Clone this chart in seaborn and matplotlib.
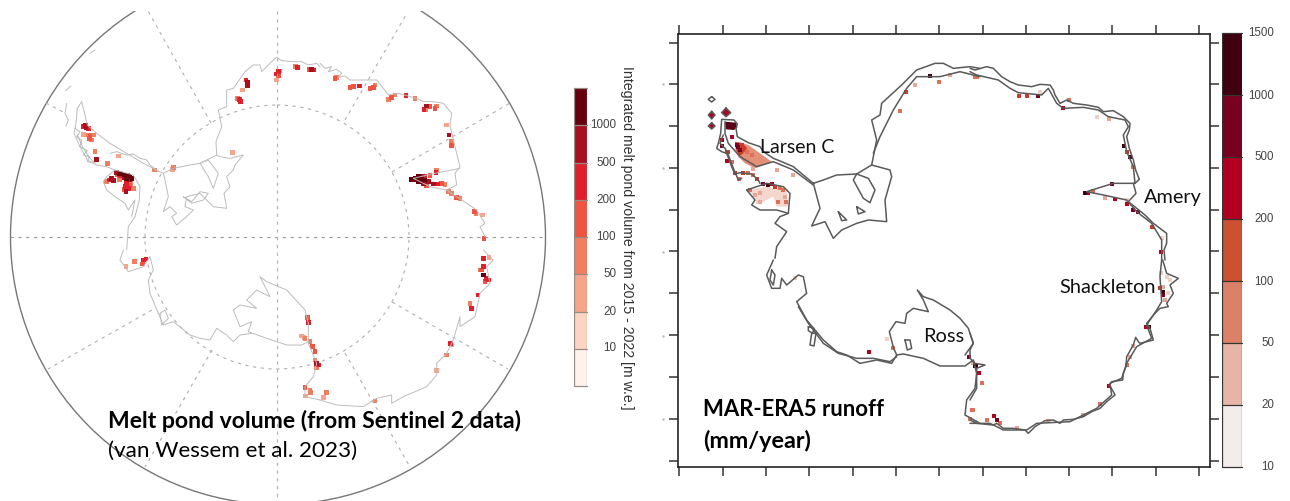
import numpy as np
import pandas as pd
import matplotlib
matplotlib.use("Agg")
import matplotlib.pyplot as plt
from matplotlib.colors import ListedColormap
from matplotlib.patches import Circle
import seaborn as sns

W, H = 1290, 501

# Colour classes
left_colors = ["#fdf3ec", "#fbd5c2", "#f6a58b", "#f07f60", "#ef5540", "#e01f2c", "#a81020", "#67000d"]
right_levels = ["10", "20", "50", "100", "200", "500", "1000", "1500"]
right_colors = ["#f2edea", "#e6b5a8", "#dc8068", "#cd5030", "#b30020", "#7a0022", "#3f0010"]
right_mark_colors = ["#f2edea", "#f0cfc6", "#e8a796", "#dc7058", "#cd3a28", "#b30020", "#7a0022", "#3f0010"]

# Traced outlines, (x, y) on 3x crops; the crop origin goes with each list
left_peninsula_w = [(245,305),(232,325),(228,370),(222,400),(240,440),(262,480),(290,495),(320,500),(345,510)]
left_peninsula_e = [(245,305),(255,345),(262,375),(290,400),(330,430),(380,460),(430,490),(470,510),(490,520)]
left_isles = [(200,310),(195,340),(205,360),(198,378)]
left_isles2 = [(225,385),(240,395),(230,410),(245,420),(240,440),(262,452),(250,465),(268,470),(262,485),(285,490),(270,475),(250,445),(232,405)]
left_isles3 = [(330,460),(350,455),(380,465),(400,462),(420,475),(440,480),(450,495),(475,515)]
left_spot_a = [(270,160),(285,150)]
left_spot_b = [(197,272),(212,258)]
left_filchner = [(490,520),(520,505),(570,495),(600,490),(640,470),(650,465),(660,470),(690,475),(730,465),(705,495),(700,510),(680,530),(690,560),(672,580),(680,625),(640,620),(620,600),(600,580),(560,590),(555,620),(580,630),(560,650),(530,675),(515,650),(530,640),(510,620),(490,635),(505,590),(495,540),(490,520)]
left_filchner_in = [(600,490),(625,530),(640,565),(655,520),(625,480),(600,490)]
left_island = [(550,590),(575,610),(610,600),(625,580),(600,575),(575,605),(550,590)]
left_dml = [(650,465),(648,425),(665,380),(655,330),(680,320),(680,270),(700,265),(735,215),(760,195),(780,195),(785,215),(805,195),(820,180),(830,172),(845,182),(880,185),(905,185),(925,195),(950,190),(960,200)]
left_george = [(345,510),(400,525),(420,560),(418,600),(405,650),(385,680),(380,750)]
left_george_w = [(345,510),(320,530),(310,545),(320,570),(345,590),(375,610),(385,630),(405,600),(395,650)]
left_east_a = [(0,190),(15,205),(35,200),(25,215),(50,208),(65,220),(55,232),(75,228),(90,240),(130,240),(170,240),(190,265),(205,285),(235,280),(290,295),(310,305),(340,305),(370,310),(395,340),(390,375),(400,420),(420,500),(405,520),(410,555),(380,570),(410,590),(440,610),(470,630),(495,670),(480,680),(495,710)]
left_amery = [(420,505),(370,515),(345,520),(280,535),(330,560),(380,570)]
left_east_b = [(490,0),(520,30),(500,50),(510,100),(480,130),(465,200),(420,230),(420,200),(400,270),(380,310),(350,340),(350,375),(320,410),(250,440),(215,460),(215,435),(170,445),(130,470),(50,465),(0,450)]
left_ross = [(960,450),(915,440),(915,410),(940,380),(950,340),(925,280),(925,220),(915,180),(860,120),(800,95),(780,80),(810,140),(770,120),(740,150),(770,175),(720,165),(700,180),(720,230),(755,215),(745,245),(800,265),(860,285),(905,285),(925,275)]
left_west = [(755,250),(720,255),(700,275),(680,255),(650,235),(630,270),(600,265),(570,255),(520,215),(490,225),(475,190),(450,130),(445,90),(460,60),(450,20),(430,50),(385,65),(360,30),(370,0)]
left_west_isle = [(480,190),(495,180),(505,205),(485,225),(480,190)]

right_filchner = [(460,490),(490,480),(530,465),(590,462),(635,435),(690,450),(695,470),(675,540),(680,605),(625,600),(590,610),(545,630),(520,655),(495,605),(455,618),(480,565),(460,490)]
right_filchner_in = [(590,462),(580,480),(610,535),(630,548),(645,510),(625,475),(590,462)]
right_isle_a = [(535,575),(560,600),(545,602),(535,575)]
right_isle_b = [(590,560),(615,575),(595,582),(590,560)]
right_coast_a = [(635,435),(650,360),(635,300),(660,285),(665,250),(725,195),(770,150),(825,130),(850,130),(880,145),(930,140),(960,145)]
right_ground_a = [(640,400),(660,350),(700,270),(740,205),(770,170),(840,170),(900,155),(960,170)]
right_peninsula = [(460,490),(430,465),(400,440),(365,425),(340,415),(310,395),(300,380),(265,368),(232,350),(228,325),(232,312),(222,300),(185,298),(182,340),(175,370),(170,385),(185,395),(200,400),(215,440),(225,462),(240,458),(275,462),(295,480),(300,490)]
right_peninsula_in = [(460,495),(400,450),(340,425),(290,440),(240,410),(205,370),(195,340),(195,305)]
right_peninsula_w = [(190,345),(180,370),(195,385),(205,405),(222,450),(235,480),(245,475)]
right_george = [(260,510),(320,490),(370,500),(390,520),(385,580),(360,590),(345,610),(380,635),(350,680),(345,715)]
right_george_w = [(260,510),(285,540),(275,555),(300,570),(350,570),(385,580)]
right_coast_b = [(0,145),(15,150),(50,140),(70,145),(95,170),(120,185),(145,195),(185,200),(210,193),(240,195),(250,210),(255,225),(270,250),(290,240),(310,250),(350,255),(385,262),(400,275),(430,272),(460,290),(480,310),(478,330),(470,350),(478,385),(490,420),(497,450),(508,478),(495,490),(490,490),(498,520),(475,545),(500,565),(525,585),(550,610),(590,640),(590,670),(582,690),(585,720)]
right_ground_b = [(0,155),(20,165),(85,180),(120,205),(145,218),(215,225),(235,205),(260,250),(280,265),(340,262),(385,270),(415,290),(465,300),(475,320),(460,345),(470,395),(490,440),(495,490),(430,490),(350,515),(400,525),(470,540),(500,575),(545,610),(575,660),(575,720)]
right_coast_c = [(578,0),(590,40),(625,55),(600,75),(610,100),(590,130),(595,140),(570,145),(555,160),(530,190),(540,205),(550,240),(530,245),(510,250),(505,245),(497,232),(490,255),(470,290),(468,320),(460,340),(458,360),(425,365),(418,375),(430,395),(435,405),(410,425),(390,445),(365,455),(340,470),(310,478),(280,480),(270,490),(250,480),(225,482),(195,500),(175,520),(165,510),(130,505),(100,505),(80,490),(70,495),(20,490),(0,480)]
right_ground_c = [(575,0),(570,50),(575,125),(560,150),(530,195),(545,235),(500,260),(470,310),(455,355),(420,370),(425,405),(380,445),(300,485),(200,490),(170,510),(100,510),(60,490),(0,490)]
right_ross_e = [(0,220),(10,250),(0,270),(0,295),(15,310),(45,315),(20,325),(20,385),(0,420)]
right_ross = [(915,285),(940,250),(925,205),(900,175),(870,150),(820,120),(790,110),(772,90),(790,120),(805,155),(760,145),(740,160),(735,190),(708,185),(688,215),(700,262),(710,285),(695,310),(650,300),(600,310),(560,285),(530,275),(490,240),(440,180),(410,125),(440,100),(430,50),(415,45),(380,75),(365,55),(360,85),(335,85),(320,45),(340,0)]
right_ross_in = [(710,285),(730,282),(790,295),(840,318),(915,318),(940,300),(950,340),(945,385),(920,420),(915,465),(960,490)]
right_west_in = [(710,290),(690,305),(640,295),(590,295),(535,280),(490,250),(445,190),(415,140)]
right_ross_isle = [(735,240),(750,240),(755,265),(742,270),(735,240)]
right_thwaites = [(445,200),(462,205),(458,220),(445,212),(445,200)]
right_pig = [(455,220),(468,220),(462,258),(450,255),(455,220)]
right_ellsworth = [(335,30),(345,45),(340,75),(330,60),(335,30)]
right_diamond = [(155,230),(165,238),(155,246),(145,238),(155,230)]

# Small melt islands and the dark patch at the tip of the peninsula
right_blob_a = [(155,274),(165,285),(155,297),(145,285),(155,274)]
right_blob_b = [(155,308),(165,318),(155,327),(145,318),(155,308)]
right_blob_c = [(198,264),(212,278),(198,290),(185,278),(198,264)]
right_dark_box = [(195,305),(228,308),(232,322),(222,330),(198,328),(195,305)]

# Graticule of the left map, pixels
spoke_from = [(211,123),(46,103),(152,310),(212,350),(345,120),(392,172),(392,302),(345,353)]
spoke_to = [(148,11),(65,113),(48,369),(145,467),(407,13),(510,103),(508,369),(410,467)]

# Melt marks (x, y, class) on the same 3x crops
left_marks_a = [(258,382,6),(250,380,5),(265,385,5),(256,376,6),(270,410,4),(265,405,3),(280,405,3),(275,420,3),(268,415,4),(250,403,2),(285,455,3),(290,478,6),(323,490,3),(355,468,2),(463,510,3),(520,503,3),(517,508,2),
                (350,517,6),(358,520,7),(366,522,7),(374,525,7),(382,527,7),(390,530,7),(396,535,7),(360,526,5),(372,532,6),(352,525,4),(380,535,7),(388,538,6),
                (335,535,6),(328,540,5),(340,542,6),(320,545,3),(358,538,3),(375,560,5),(380,550,5),(385,565,5),(378,575,6),(372,568,4),(400,565,3),(392,550,3),(390,557,4),
                (742,248,6),(738,240,5),(742,258,6),(718,298,5),(722,305,5),(712,295,3),(728,270,2),(835,215,5),(830,222,5),(835,228,4),(840,213,3),(830,240,2),(893,202,5),(887,200,3),(935,208,6),(928,208,4),(942,210,5),(698,458,2)]
left_marks_b = [(45,235,4),(50,232,3),(90,262,4),(100,260,4),(118,258,5),(150,265,4),(160,262,4),(165,255,3),(205,298,3),(215,292,4),(225,285,3),(258,287,5),(285,296,3),(320,318,6),(312,328,5),(330,320,4),(345,325,4),(350,318,3),(318,330,3),(380,375,2),(387,405,6),(395,425,3),(395,437,4),
                (275,538,7),(285,535,7),(295,530,7),(305,530,6),(315,528,5),(330,527,4),(290,540,7),(295,545,7),(305,545,7),(315,540,7),(305,538,7),(325,545,6),(310,552,6),(320,558,4),(340,552,6),(352,552,5),(365,550,4),(375,553,3),(348,518,5),(350,510,3),(385,575,3),(395,580,3),(410,592,4),(420,595,3),(463,635,4),(468,642,3),(488,645,2),(492,715,4)]
left_marks_c = [(403,35,3),(378,50,2),(430,30,5),(438,27,5),(428,42,4),(922,203,4),(926,217,5),(912,262,2),(905,258,2),(915,265,3),(930,275,3),(937,290,4),(945,305,4),(950,340,6),(945,330,3),(955,345,5),(950,353,3),(915,412,4),(930,420,3),(932,428,3),(917,438,2)]
left_marks_d = [(490,25,5),(507,22,2),(490,50,5),(485,60,4),(490,75,7),(498,85,5),(495,95,4),(505,90,5),(480,60,3),(474,135,5),(450,160,3),(455,175,5),(392,280,5),(395,285,2),(380,315,3),(350,362,2),(20,428,3),(10,442,2),(165,453,3)]

right_larsen_fill = [(235,365),(265,375),(300,400),(335,425),(285,445),(255,430),(235,410),(225,385)]
right_larsen_core = [(225,365),(250,372),(262,385),(245,405),(230,395)]
right_george_fill = [(265,510),(320,500),(380,510),(385,560),(350,560),(340,530),(300,550),(290,540)]
right_marks_a = [(215,350,5),(230,375,6),(240,390,6),(235,380,6),(245,375,4),(250,385,4),(240,400,4),(260,395,3),(275,405,3),(187,360,5),(187,378,6),(200,395,4),(205,395,4),(215,425,3),(200,422,5),(225,460,4),(238,478,3),(250,458,4),(265,458,3),(280,465,3),(290,478,4),(310,492,6),(325,495,7),(335,492,5),(345,500,4),(360,505,3),(370,510,3),(375,530,2),(378,545,3),(270,510,3),(285,525,2),(295,545,1),(300,520,2),(300,545,2),(355,545,3),(350,450,2),(400,465,2),(280,447,2),(738,215,4),(720,272,3),(810,167,7),(765,195,2),(838,185,3),(950,172,3),(870,165,2)]
right_marks_b = [(15,170,3),(148,228,4),(170,228,4),(205,227,6),(210,215,1),(280,265,5),(298,240,3),(380,290,1),(418,298,2),(462,378,7),(470,395,4),(480,412,7),(488,440,3),(345,518,7),(355,518,5),(370,512,3),(405,535,2),(435,538,5),(425,493,6),(470,553,5),(490,570,6),(505,575,6),(545,620,4),(572,695,5),(575,655,1),(470,540,1)]
right_marks_c = [(628,275,5),(682,238,1),(700,265,3),(405,55,1),(928,292,6),(948,318,7),(958,340,5),(940,310,2),(937,450,3),(930,478,3),(945,485,2)]
right_marks_d = [(572,40,1),(590,50,1),(600,60,1),(580,80,2),(578,95,7),(570,85,4),(580,105,6),(585,120,2),(595,100,1),(528,202,5),(538,202,7),(490,258,2),(472,315,3),(480,290,2),(416,378,5),(390,432,3),(340,465,2),(235,483,2),(140,503,2),(50,480,3),(72,467,5),(80,480,6),(90,490,3),(15,318,7),(25,338,4),(35,370,3),(8,450,3)]

# Axis ticks of the right map
right_xticks = [679, 722.5, 766, 809, 852.5, 896, 939, 982.7, 1026, 1069, 1112, 1155.5, 1199]
right_yticks = [42.7, 84, 126, 168, 210, 251.5, 293, 335.5, 377, 419, 461]
left_stray_y = [84, 168, 252, 336, 419]


def px(points, x0, y0):
    # crop coordinates to figure pixels
    arr = np.array(points, dtype=float)
    return arr[:, 0] / 3 + x0, arr[:, 1] / 3 + y0


def px_axes(fig, x0, y0, x1, y1):
    return fig.add_axes([x0 / W, 1 - y1 / H, (x1 - x0) / W, (y1 - y0) / H])


def outline(ax, points, x0, y0, color, lw):
    xs, ys = px(points, x0, y0)
    sns.lineplot(x=xs, y=ys, sort=False, estimator=None, errorbar=None, color=color, lw=lw, ax=ax)


def marks(ax, sets, palette, size):
    rows = []
    for pts, x0, y0 in sets:
        xs, ys = px([p[:2] for p in pts], x0, y0)
        rows.append(pd.DataFrame({"x": xs, "y": ys, "level": [p[2] for p in pts]}))
    df = pd.concat(rows).sort_values("level")
    sns.scatterplot(data=df, x="x", y="y", hue="level", palette=palette, marker="s", s=size,
                    linewidth=0, legend=False, ax=ax)


def colorbar(fig, box, colors, labels, positions, fontsize, color, edge):
    ax = px_axes(fig, *box)
    # first colour on top
    cells = np.arange(len(colors)).reshape(-1, 1)
    sns.heatmap(cells, cmap=ListedColormap(colors), cbar=False, linewidths=0, ax=ax,
                xticklabels=False, yticklabels=False)
    for r in range(len(colors) + 1):
        ax.axhline(r, color=edge, lw=0.9, clip_on=False)
    ax.axvline(0, color=edge, lw=0.9)
    ax.axvline(1, color=edge, lw=0.9)
    ax.tick_params(left=False, bottom=False)
    for lab, pos in zip(labels, positions):
        fig.text(pos[0] / W, 1 - pos[1] / H, lab, ha="right", va="center",
                 fontsize=fontsize, family="Liberation Sans", color=color)
    return ax


sns.set_theme(style="white")
plt.rcParams["font.family"] = ["Lato", "DejaVu Sans"]

fig = plt.figure(figsize=(W / 100, H / 100), dpi=100, facecolor="white")

# Left map: pixel coordinates, cut off at the top like the picture
ax = px_axes(fig, 0, 11, 640, 501)
ax.axis("off")

dash = (0, (3, 4))
ax.add_patch(Circle((278, 237), 267.5, fill=False, ec="#777777", lw=1.0))
ax.add_patch(Circle((277, 237), 132, fill=False, ec="#b0b0b0", lw=0.8, ls=dash))
ax.plot([10, 545], [237, 237], color="#999999", lw=0.8, ls=dash)
ax.plot([277, 277], [11, 501], color="#b0b0b0", lw=0.8, ls=dash)
for a, b in zip(spoke_from, spoke_to):
    ax.plot([a[0], b[0]], [a[1], b[1]], color="#b0b0b0", lw=0.8, ls=dash)

line_gray = "#bcbcbc"
for pts, x0, y0 in [(left_peninsula_w, 0, 0), (left_peninsula_e, 0, 0), (left_isles, 0, 0), (left_isles2, 0, 0),
                    (left_isles3, 0, 0), (left_spot_a, 0, 0), (left_spot_b, 0, 0), (left_filchner, 0, 0),
                    (left_filchner_in, 0, 0), (left_island, 0, 0), (left_dml, 0, 0), (left_george, 0, 0),
                    (left_george_w, 0, 0), (left_east_a, 320, 0), (left_amery, 320, 0), (left_east_b, 320, 250),
                    (left_ross, 0, 250), (left_west, 0, 250), (left_west_isle, 0, 250)]:
    outline(ax, pts, x0, y0, line_gray, 0.7)

marks(ax, [(left_marks_a, 0, 0), (left_marks_b, 320, 0), (left_marks_c, 0, 250), (left_marks_d, 320, 250)],
      dict(enumerate(left_colors)), 10)

ax.text(108, 421, "Melt pond volume (from Sentinel 2 data)", fontsize=16.6, fontweight="bold",
        va="center", color="black", clip_on=False)
ax.text(108, 451, "(van Wessem et al. 2023)", fontsize=16.2, va="center", color="black", clip_on=False)
ax.set(xlabel=None, ylabel=None)
ax.set_xlim(0, 640)
ax.set_ylim(501, 11)

colorbar(fig, (574, 88, 587, 386), left_colors[::-1], ["1000", "500", "200", "100", "50", "20", "10"],
         [(616, 125), (616, 162.7), (616, 200), (616, 236.7), (616, 274), (616, 311.7), (616, 348.3)],
         8.4, "#444444", "#9a8a84")
fig.text(627 / W, 1 - 238 / H, "Integrated melt pond volume from 2015 - 2022 [m w.e.]", rotation=-90,
         ha="center", va="center", fontsize=10.2, family="Liberation Sans", color="#333333")

# Right map
rx = px_axes(fig, 677.5, 34, 1210, 466.7)

rx.fill(*px(right_larsen_fill, 660, 20), color="#e48f78", lw=0)
rx.fill(*px(right_larsen_core, 660, 20), color="#c8402c", lw=0)
rx.fill(*px(right_george_fill, 660, 20), color="#f3d6cc", lw=0)
rx.fill(*px(right_blob_a, 660, 20), color="#b30020", lw=0)
rx.fill(*px(right_blob_b, 660, 20), color="#b30020", lw=0)
rx.fill(*px(right_blob_c, 660, 20), color="#b30020", lw=0)
rx.fill(*px(right_dark_box, 660, 20), color="#5a0018", lw=0)
marks(rx, [(right_marks_a, 660, 20), (right_marks_b, 970, 20), (right_marks_c, 660, 260), (right_marks_d, 970, 260)],
      dict(enumerate(right_mark_colors)), 7)

line_dark = "#5a5a5a"
for pts, x0, y0 in [(right_filchner, 660, 20), (right_filchner_in, 660, 20), (right_isle_a, 660, 20),
                    (right_isle_b, 660, 20), (right_coast_a, 660, 20), (right_ground_a, 660, 20),
                    (right_peninsula, 660, 20), (right_peninsula_in, 660, 20), (right_peninsula_w, 660, 20),
                    (right_george, 660, 20), (right_george_w, 660, 20), (right_diamond, 660, 20),
                    (right_blob_a, 660, 20), (right_blob_b, 660, 20), (right_blob_c, 660, 20),
                    (right_coast_b, 970, 20), (right_ground_b, 970, 20), (right_coast_c, 970, 260),
                    (right_ground_c, 970, 260), (right_ross_e, 970, 260), (right_ross, 660, 260),
                    (right_ross_in, 660, 260), (right_west_in, 660, 260), (right_ross_isle, 660, 260),
                    (right_thwaites, 660, 260), (right_pig, 660, 260), (right_ellsworth, 660, 260)]:
    outline(rx, pts, x0, y0, line_dark, 1.1)

rx.plot([663] * len(left_stray_y), left_stray_y, ls="none", marker=".", ms=1.5, color="#bbbbbb", clip_on=False)
rx.set_xlim(677.5, 1210)
rx.set_ylim(466.7, 34)
rx.set_xticks(right_xticks)
rx.set_yticks(right_yticks)
rx.set_xticklabels([])
rx.set_yticklabels([])
rx.set(xlabel=None, ylabel=None)
rx.tick_params(axis="both", which="major", direction="out", length=6.5, width=1.1, color="#333333",
               bottom=True, top=True, left=True, right=True)
for side in rx.spines.values():
    side.set_linewidth(1.2)
    side.set_color("#222222")

rx.text(760, 148, "Larsen C", fontsize=14, va="center", color="#111111")
rx.text(1144, 198, "Amery", fontsize=14.3, va="center", color="#111111")
rx.text(1059, 288, "Shackleton", fontsize=14.4, va="center", color="#111111", clip_on=False)
rx.text(923, 337, "Ross", fontsize=14.4, va="center", color="#111111")
rx.text(703, 410, "MAR-ERA5 runoff", fontsize=15.9, fontweight="bold", va="center", color="black")
rx.text(703, 441, "(mm/year)", fontsize=16.8, fontweight="bold", va="center", color="black")

colorbar(fig, (1222, 33, 1242, 467), right_colors[::-1], right_levels[::-1],
         [(1274, 33), (1274, 96), (1274, 157), (1274, 219), (1274, 281.7), (1274, 343), (1274, 405), (1274, 467)],
         8.3, "#444444", "#333333")

fig.savefig("out.png", dpi=100)
